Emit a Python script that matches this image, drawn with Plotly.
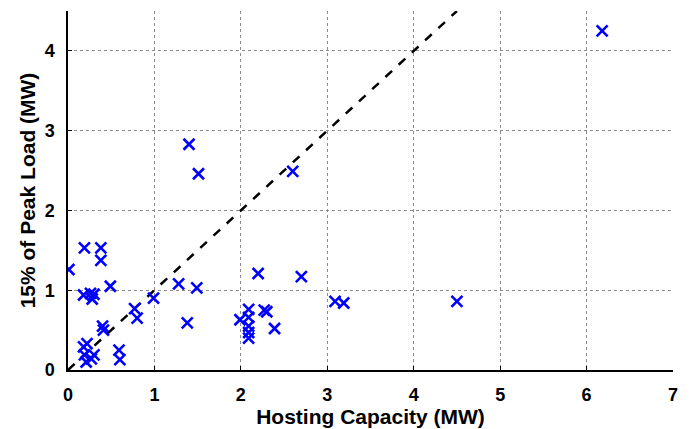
import plotly.graph_objects as go

hosting_capacity = [0.01, 0.19, 0.38, 0.38, 0.49,
                    0.18, 0.26, 0.30, 0.28,
                    0.40, 0.41,
                    0.18, 0.22, 0.19, 0.30, 0.21, 0.27,
                    0.59, 0.60,
                    0.77, 0.80, 0.99, 1.28, 1.49, 1.38,
                    1.40, 1.51, 2.60,
                    1.99, 2.09, 2.09, 2.09, 2.09, 2.09,
                    2.20, 2.27, 2.30, 2.39, 2.70,
                    3.09, 3.19, 4.50, 6.18]
peak_load_15 = [1.26, 1.53, 1.53, 1.375, 1.05,
                0.94, 0.96, 0.95, 0.89,
                0.55, 0.50,
                0.29, 0.33, 0.19, 0.19, 0.10, 0.14,
                0.25, 0.13,
                0.77, 0.65, 0.90, 1.08, 1.03, 0.59,
                2.83, 2.46, 2.49,
                0.63, 0.76, 0.66, 0.55, 0.47, 0.40,
                1.21, 0.75, 0.73, 0.52, 1.17,
                0.86, 0.84, 0.86, 4.25]

x_range = [0, 7]
y_range = [0, 4.5]
x_ticks = [0, 1, 2, 3, 4, 5, 6, 7]
y_ticks = [0, 1, 2, 3, 4]

fig = go.Figure()
fig.add_trace(go.Scatter(
    x=[0, y_range[1]], y=[0, y_range[1]], mode="lines",
    line=dict(color="black", width=2.5, dash="dash"), showlegend=False))
fig.add_trace(go.Scatter(
    x=hosting_capacity, y=peak_load_15, mode="markers",
    marker=dict(symbol="x-thin", size=11, line=dict(color="#0000FF", width=2.6)),
    showlegend=False))

font_family = "Liberation Sans, Arial, sans-serif"


def axis_style():
    return dict(
        showgrid=True, gridcolor="#8c8c8c", griddash="dot", gridwidth=1,
        zeroline=False, showline=True, linecolor="black", linewidth=1.5,
        ticks="inside", ticklen=4, tickcolor="black", tickwidth=1,
        ticklabelstandoff=8, automargin=False,
        tickfont=dict(family=font_family, size=18, color="black", weight=700),
    )


fig.update_layout(
    width=691, height=429,
    margin=dict(l=68, r=18, t=11, b=59),
    plot_bgcolor="white", paper_bgcolor="white",
    xaxis=dict(range=x_range, tickvals=x_ticks, **axis_style(),
               title=dict(text="Hosting Capacity (MW)", standoff=5,
                          font=dict(family=font_family, size=21, color="black", weight=700))),
    yaxis=dict(range=y_range, tickvals=y_ticks, **axis_style(),
               title=dict(text="15% of Peak Load (MW)", standoff=3,
                          font=dict(family=font_family, size=21, color="black", weight=700))),
)
fig.write_html("out.html", config={"displayModeBar": False},
               post_script="document.body.style.margin='0';")
